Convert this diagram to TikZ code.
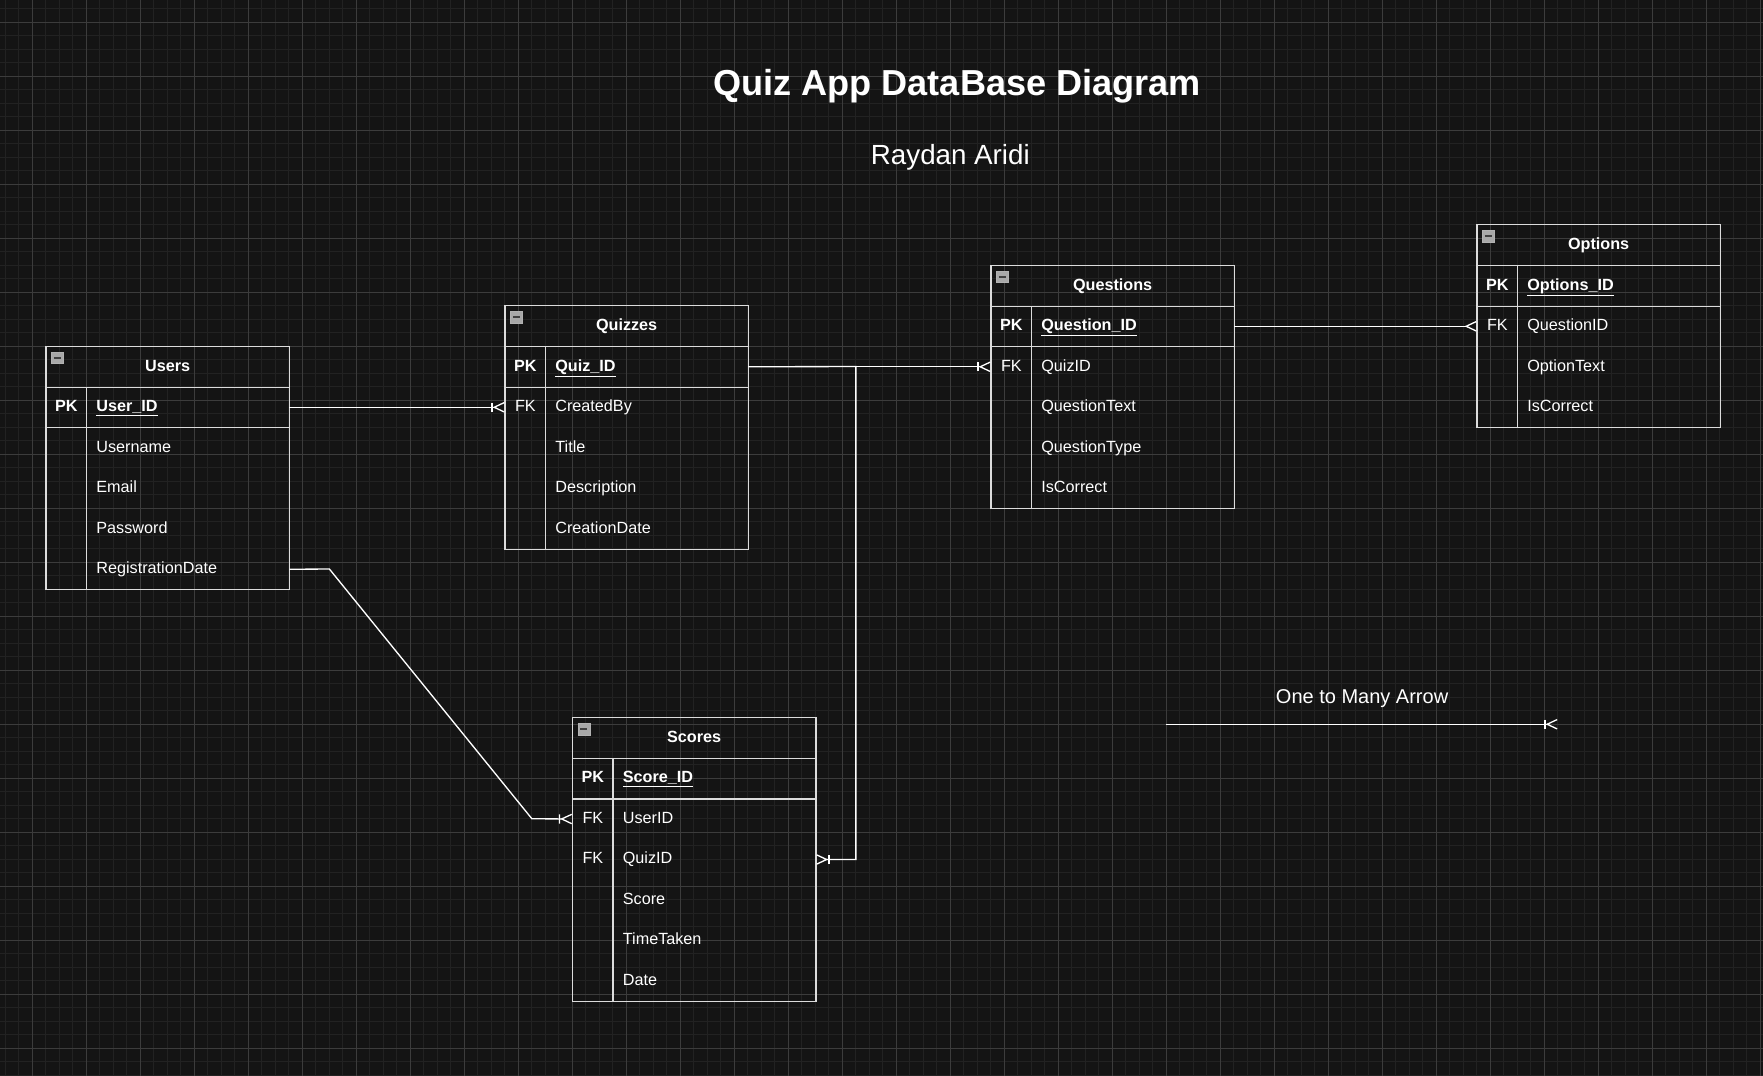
\documentclass[tikz,border=0pt]{standalone}
\usepackage{fontspec}
\setmainfont{Liberation Sans}
\usetikzlibrary{arrows.meta,positioning}

\definecolor{bgdark}{HTML}{141414}
\definecolor{gridminor}{HTML}{222222}
\definecolor{gridmajor}{HTML}{3C3C3C}
\definecolor{linelight}{HTML}{DCDCDC}
\definecolor{iconfill}{HTML}{A8A8A8}

\newcommand{\cellfont}{\fontsize{12.15pt}{14.5pt}\selectfont}

\begin{document}
\begin{tikzpicture}[x=1.0125pt, y=-1.0125pt]
\tikzstyle{tbl} = [draw=linelight, line width=1pt]
\tikzstyle{hdr} = [anchor=north west, minimum width=182.25pt, minimum height=30.375pt, inner sep=0pt, text height=9pt, text depth=2.4pt, font=\cellfont\bfseries, text=white]
\tikzstyle{keycell} = [anchor=north west, minimum width=30.375pt, minimum height=30.375pt, inner sep=0pt, text height=9pt, text depth=2.4pt, font=\cellfont, text=white]
\tikzstyle{fieldcell} = [anchor=north west, minimum height=30.375pt, text width=137.3pt, inner xsep=7.3pt, inner ysep=0pt, align=left, text height=9pt, text depth=2.4pt, font=\cellfont, text=white]
\tikzstyle{icon} = [anchor=north west, draw=gray!60, fill=iconfill, minimum size=8.8pt, inner sep=0pt,
  path picture={\draw[black!75, line width=1.3pt] ([xshift=1.8pt]path picture bounding box.west) -- ([xshift=-1.8pt]path picture bounding box.east);}]
\tikzstyle{rel} = [draw=white, line width=1pt]
\tikzstyle{onemany} = [-{Bar[width=7pt,sep=0pt]Straight Barb[reversed,length=7.5pt,width=7pt]}]
\tikzstyle{manyend} = [-{Straight Barb[reversed,length=7.5pt,width=7pt]}]

% background and grid
\useasboundingbox (-24,-16.5) rectangle (1282,780.5);
\fill[bgdark] (-24,-16.5) rectangle (1282,780.5);
\foreach \gx in {-20,-10,...,1280} \draw[gridminor, line width=.75pt] (\gx,-16.5) -- (\gx,780.5);
\foreach \gy in {-10,0,...,780} \draw[gridminor, line width=.75pt] (-24,\gy) -- (1282,\gy);
\foreach \gx in {0,40,...,1280} \draw[gridmajor, line width=.75pt] (\gx,-16.5) -- (\gx,780.5);
\foreach \gy in {0,40,...,760} \draw[gridmajor, line width=.75pt] (-24,\gy) -- (1282,\gy);

% titles
\node [anchor=base, font=\fontsize{27.1pt}{32pt}\selectfont\bfseries, text=white] (title) at (685, 54) {Quiz App DataBase Diagram};
\node [anchor=base, font=\fontsize{20.8pt}{25pt}\selectfont, text=white] (author) at (680, 105.7) {Raydan Aridi};

% Users
\node [hdr] (uhd) at (10, 240) {Users};
\node [icon] (uic) at (14, 244) {};
\node [keycell, font=\cellfont\bfseries] (upk) at (10, 270) {PK};
\node [fieldcell, font=\cellfont\bfseries] (uid) at (40, 270) {\underline{User\_ID}};
\node [fieldcell] (uname) at (40, 300) {Username};
\node [fieldcell] (umail) at (40, 330) {Email};
\node [fieldcell] (upass) at (40, 360) {Password};
\node [fieldcell] (ureg) at (40, 390) {RegistrationDate};
\draw [tbl] (uhd.north west) rectangle (ureg.south east);
\draw [tbl] (uhd.south west) -- (uhd.south east);
\draw [tbl] (upk.south west) -- (uid.south east);
\draw [tbl] (uid.north west) -- (ureg.south west);

% Quizzes
\node [hdr] (qhd) at (350, 210) {Quizzes};
\node [icon] (qic) at (354, 214) {};
\node [keycell, font=\cellfont\bfseries] (qpk) at (350, 240) {PK};
\node [fieldcell, font=\cellfont\bfseries] (qid) at (380, 240) {\underline{Quiz\_ID}};
\node [keycell] (qfk) at (350, 270) {FK};
\node [fieldcell] (qby) at (380, 270) {CreatedBy};
\node [fieldcell] (qtitle) at (380, 300) {Title};
\node [fieldcell] (qdesc) at (380, 330) {Description};
\node [fieldcell] (qdate) at (380, 360) {CreationDate};
\draw [tbl] (qhd.north west) rectangle (qdate.south east);
\draw [tbl] (qhd.south west) -- (qhd.south east);
\draw [tbl] (qpk.south west) -- (qid.south east);
\draw [tbl] (qid.north west) -- (qdate.south west);

% Questions
\node [hdr] (qshd) at (710, 180) {Questions};
\node [icon] (qsic) at (714, 184) {};
\node [keycell, font=\cellfont\bfseries] (qspk) at (710, 210) {PK};
\node [fieldcell, font=\cellfont\bfseries] (qsid) at (740, 210) {\underline{Question\_ID}};
\node [keycell] (qsfk) at (710, 240) {FK};
\node [fieldcell] (qsquiz) at (740, 240) {QuizID};
\node [fieldcell] (qstext) at (740, 270) {QuestionText};
\node [fieldcell] (qstype) at (740, 300) {QuestionType};
\node [fieldcell] (qscorr) at (740, 330) {IsCorrect};
\draw [tbl] (qshd.north west) rectangle (qscorr.south east);
\draw [tbl] (qshd.south west) -- (qshd.south east);
\draw [tbl] (qspk.south west) -- (qsid.south east);
\draw [tbl] (qsid.north west) -- (qscorr.south west);

% Options
\node [hdr] (ohd) at (1070, 150) {Options};
\node [icon] (oic) at (1074, 154) {};
\node [keycell, font=\cellfont\bfseries] (opk) at (1070, 180) {PK};
\node [fieldcell, font=\cellfont\bfseries] (oid) at (1100, 180) {\underline{Options\_ID}};
\node [keycell] (ofk) at (1070, 210) {FK};
\node [fieldcell] (oques) at (1100, 210) {QuestionID};
\node [fieldcell] (otext) at (1100, 240) {OptionText};
\node [fieldcell] (ocorr) at (1100, 270) {IsCorrect};
\draw [tbl] (ohd.north west) rectangle (ocorr.south east);
\draw [tbl] (ohd.south west) -- (ohd.south east);
\draw [tbl] (opk.south west) -- (oid.south east);
\draw [tbl] (oid.north west) -- (ocorr.south west);

% Scores
\node [hdr] (shd) at (400, 515) {Scores};
\node [icon] (sic) at (404, 519) {};
\node [keycell, font=\cellfont\bfseries] (spk) at (400, 545) {PK};
\node [fieldcell, font=\cellfont\bfseries] (sid) at (430, 545) {\underline{Score\_ID}};
\node [keycell] (sfka) at (400, 575) {FK};
\node [fieldcell] (suser) at (430, 575) {UserID};
\node [keycell] (sfkb) at (400, 605) {FK};
\node [fieldcell] (squiz) at (430, 605) {QuizID};
\node [fieldcell] (sscore) at (430, 635) {Score};
\node [fieldcell] (stime) at (430, 665) {TimeTaken};
\node [fieldcell] (sdate) at (430, 695) {Date};
\draw [tbl] (shd.north west) rectangle (sdate.south east);
\draw [tbl] (shd.south west) -- (shd.south east);
\draw [tbl] (spk.south west) -- (sid.south east);
\draw [tbl] (sid.north west) -- (sdate.south west);

% relations
\coordinate (qbend) at (610, 255);
\coordinate (ubenda) at (220, 405);
\coordinate (ubendb) at (370, 590);
\draw [rel, onemany] (uid.east) -- (qfk.west);
\draw [rel, onemany] (qid.east) -- (qsfk.west);
\draw [rel, manyend] (qsid.east) -- (ofk.west);
\draw [rel, onemany] (qid.east) -- (qbend) |- (squiz.east);
\draw [rel, onemany] (ureg.east) -- (ubenda) -- (ubendb) -- (sfka.west);

% legend
\node [anchor=base, font=\fontsize{15pt}{18pt}\selectfont, text=white] (legtxt) at (985, 504.4) {One to Many Arrow};
\coordinate (lega) at (840, 520);
\coordinate (legb) at (1130, 520);
\draw [rel, onemany] (lega) -- (legb);
\end{tikzpicture}
\end{document}
